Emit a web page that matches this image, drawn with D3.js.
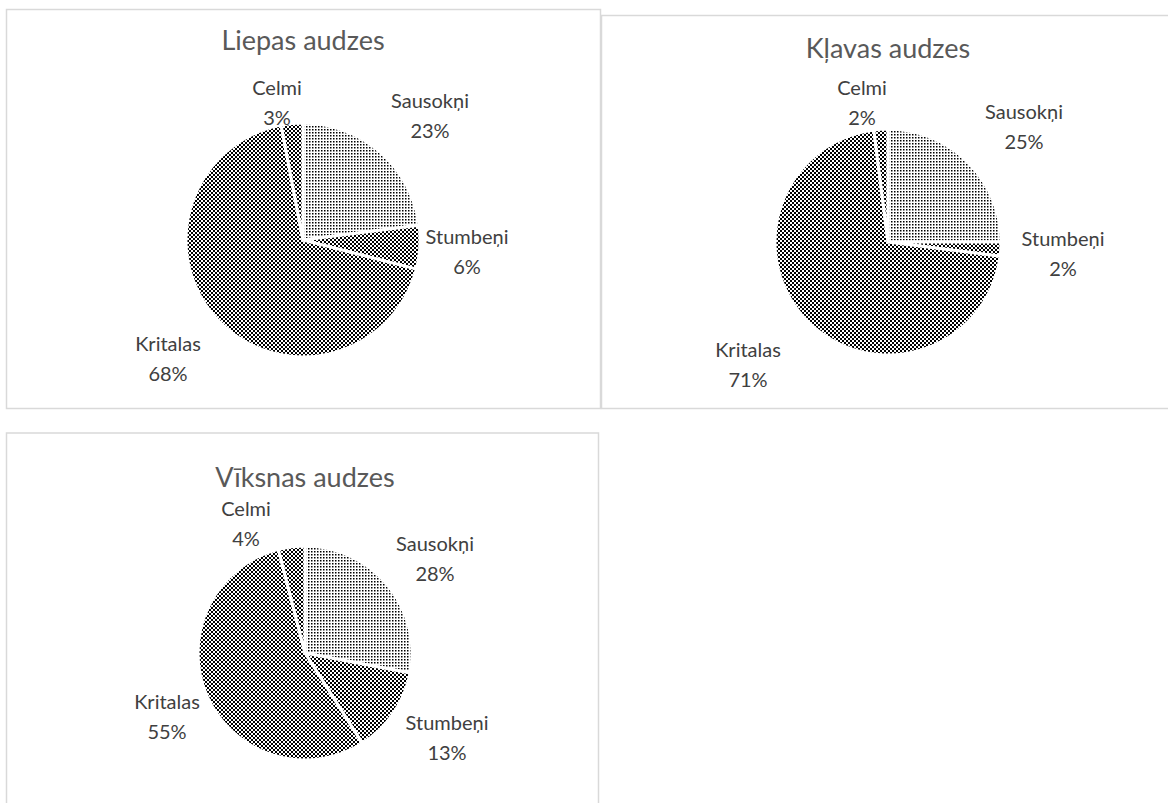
<!DOCTYPE html>
<html lang="lv">
<head>
<meta charset="UTF-8">
<title>Audzes</title>
<script src="https://d3js.org/d3.v7.min.js"></script>
<style>
    body { margin: 0; background: #fff; }
    svg { display: block; }
    .title { font-family: Lato, "Noto Sans", sans-serif; fill: #595959; text-anchor: middle; }
    .lbl { font-family: Lato, "Noto Sans", sans-serif; fill: #404040; text-anchor: middle; }
</style>
</head>
<body>
<svg id="chart" width="1168" height="803"></svg>
<script>
// dati
const categories = ["Sausokņi", "Stumbeņi", "Kritalas", "Celmi"];
const liepasValues = [23, 6, 68, 3];
const klavasValues = [25, 2, 71, 2];
const viksnasValues = [28, 13, 55, 4];
const titles = ["Liepas audzes", "Kļavas audzes", "Vīksnas audzes"];

// izkārtojums (etiķešu nobīdes no centra, kā Excel "best fit")
const charts = [
    { title: titles[0], values: liepasValues, box: [6.5, 9.5, 594, 399], cx: 303, cy: 240, r: 117, ty: 50,
      lab: [[127, -125], [164, 11], [-135, 118], [-26, -138]] },
    { title: titles[1], values: klavasValues, box: [601.5, 15.5, 600, 393], cx: 888, cy: 242, r: 113, ty: 58,
      lab: [[136, -116], [175, 11], [-140, 122], [-26, -140]] },
    { title: titles[2], values: viksnasValues, box: [6.5, 433, 592, 400], cx: 305, cy: 653, r: 107, ty: 487,
      lab: [[130, -95], [142, 84], [-138, 63], [-59, -130]] }
];

const svg = d3.select("#chart");
const defs = svg.append("defs");

// rakstu aizpildījumi
const pDots = defs.append("pattern").attr("id", "p0").attr("patternUnits", "userSpaceOnUse").attr("width", 3).attr("height", 3);
pDots.append("rect").attr("width", 3).attr("height", 3).attr("fill", "#fff");
pDots.append("rect").attr("width", 1.5).attr("height", 1.5).attr("fill", "#000");

const pCross = defs.append("pattern").attr("id", "p1").attr("patternUnits", "userSpaceOnUse").attr("width", 4).attr("height", 4);
pCross.append("rect").attr("width", 4).attr("height", 4).attr("fill", "#fff");
[[0,0],[1,1],[2,2],[3,3],[3,0],[2,1],[1,2],[0,3]].forEach(([x, y]) =>
    pCross.append("rect").attr("x", x).attr("y", y).attr("width", 1).attr("height", 1).attr("fill", "#000"));

const pCheck = defs.append("pattern").attr("id", "p2").attr("patternUnits", "userSpaceOnUse").attr("width", 4).attr("height", 4);
pCheck.append("rect").attr("width", 4).attr("height", 4).attr("fill", "#fff");
pCheck.append("rect").attr("width", 2).attr("height", 2).attr("fill", "#000");
pCheck.append("rect").attr("x", 2).attr("y", 2).attr("width", 2).attr("height", 2).attr("fill", "#000");

const fills = ["url(#p0)", "url(#p1)", "url(#p2)", "url(#p2)"];

const pie = d3.pie().sort(null).value(d => d);
const pct = d3.format(".0%");

charts.forEach(c => {
    const [bx, by, bw, bh] = c.box;
    svg.append("rect")
        .attr("x", bx).attr("y", by).attr("width", bw).attr("height", bh)
        .attr("fill", "#fff").attr("stroke", "#d9d9d9").attr("stroke-width", 1.5);

    const g = svg.append("g").attr("transform", `translate(${c.cx},${c.cy})`);
    const total = d3.sum(c.values);
    const arcs = pie(c.values);
    const arc = d3.arc().innerRadius(0).outerRadius(c.r);

    g.selectAll("path").data(arcs).enter().append("path")
        .attr("d", arc)
        .attr("fill", (d, i) => fills[i])
        .attr("stroke", "#fff")
        .attr("stroke-width", 3)
        .attr("stroke-linejoin", "round");

    const lbl = g.selectAll(".lbl").data(arcs).enter().append("text")
        .attr("class", "lbl")
        .attr("font-size", 20)
        .attr("transform", (d, i) => `translate(${c.lab[i][0]},${c.lab[i][1]})`);
    lbl.append("tspan").attr("x", 0).attr("y", -7).text((d, i) => categories[i]);
    lbl.append("tspan").attr("x", 0).attr("y", 23).text(d => pct(d.value / total));

    svg.append("text").attr("class", "title")
        .attr("x", c.cx).attr("y", c.ty)
        .attr("font-size", 27)
        .text(c.title);
});
</script>
</body>
</html>
